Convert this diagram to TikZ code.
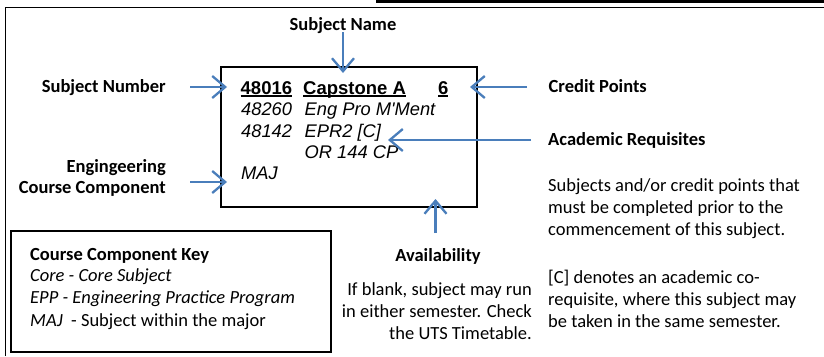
\documentclass[tikz,border=0pt]{standalone}
\usepackage{fontspec}
\setmainfont{Carlito}
\newfontfamily\arialf{Liberation Sans}
\usetikzlibrary{arrows.meta}
\definecolor{arrowblue}{RGB}{74,126,187}
\newcommand\myul[1]{\leavevmode\setbox0\hbox{#1}\rlap{\rule[-3pt]{\wd0}{2pt}}\box0}
\begin{document}
\begin{tikzpicture}[x=1pt,y=-1pt,
  lbl/.style={font=\fontsize{18.5}{22}\selectfont\bfseries, inner sep=0pt},
  bodyt/.style={font=\fontsize{18.5}{22}\selectfont, inner sep=0pt},
  boxb/.style={font=\arialf\fontsize{18.5}{21}\selectfont\bfseries, inner sep=0pt},
  boxi/.style={font=\arialf\fontsize{18.3}{21}\selectfont\itshape, inner sep=0pt},
  frame/.style={draw=black, line width=1.2pt},
  arr/.style={draw=arrowblue, line width=2.3pt, -{Straight Barb[length=13pt,width=22pt,line width=2.3pt]}}]
\useasboundingbox (0,0) rectangle (824,356);
% outer frame and top bar
\draw[line width=1pt] (5,356) -- (5,7) -- (824,7);
\fill[black] (376,0) rectangle (824,3.2);
% subject box
\draw[frame] (221,67) rectangle (477,207);
% key box
\draw[frame] (11,231) rectangle (331,352);
% box content
\node[boxb, anchor=base west] (num) at (240.5,94) {\myul{48016}};
\node[boxb, anchor=base west] (name) at (303,94) {\myul{Capstone A}};
\node[boxb, anchor=base west] (cp) at (438,94) {\myul{6}};
\node[boxi, anchor=base west] (r2a) at (241,115.5) {48260};
\node[boxi, anchor=base west] (r2b) at (304.5,115.5) {Eng Pro M\textquotesingle Ment};
\node[boxi, anchor=base west] (r3a) at (241,137.5) {48142};
\node[boxi, anchor=base west] (r3b) at (304.5,137.5) {EPR2 [C]};
\node[boxi, anchor=base west] (r4b) at (304.5,158.5) {OR 144 CP};
\node[boxi, anchor=base west] (r5a) at (241,179.5) {MAJ};
% labels
\node[lbl, anchor=base] (sname) at (343,30.5) {Subject Name};
\node[lbl, anchor=base east] (snum) at (166,92) {Subject Number};
\node[lbl, anchor=base east] (eng1) at (166,172) {Engingeering};
\node[lbl, anchor=base east] (eng2) at (166,193) {Course Component};
\node[lbl, anchor=base west] (credit) at (548.5,92) {Credit Points};
\node[lbl, anchor=base west] (acad) at (548,145) {Academic Requisites};
\node[lbl, anchor=base] (avail) at (438,261) {Availability};
% availability text
\node[bodyt, anchor=base east] (av1) at (532,295) {If blank, subject may run};
\node[bodyt, anchor=base east] (av2) at (532,317) {in either semester. Check};
\node[bodyt, anchor=base east] (av3) at (532,339) {the UTS Timetable.};
% requisites text
\node[bodyt, anchor=base west] (rq1) at (548,191) {Subjects and/or credit points that};
\node[bodyt, anchor=base west] (rq2) at (548,213) {must be completed prior to the};
\node[bodyt, anchor=base west] (rq3) at (548,235) {commencement of this subject.};
\node[bodyt, anchor=base west] (rq4) at (548,283) {[C] denotes an academic co-};
\node[bodyt, anchor=base west] (rq5) at (548,305) {requisite, where this subject may};
\node[bodyt, anchor=base west] (rq6) at (548,327) {be taken in the same semester.};
% key text
\node[lbl, anchor=base west] (key0) at (30,260) {Course Component Key};
\node[bodyt, anchor=base west] (key1) at (30,281) {\itshape Core - Core Subject};
\node[bodyt, anchor=base west] (key2) at (30,303) {\itshape EPP - Engineering Practice Program};
\node[bodyt, anchor=base west] (key3) at (30,326) {\textit{MAJ}\ \ - Subject within the major};
% arrow coordinates
\coordinate (snS) at (343,32);
\coordinate (snE) at (343,73);
\coordinate (nuS) at (190,87);
\coordinate (nuE) at (227,87);
\coordinate (enS) at (190,182);
\coordinate (enE) at (227,182);
\coordinate (crS) at (527,87);
\coordinate (crE) at (470,87);
\coordinate (acS) at (531,140);
\coordinate (acE) at (388,140);
\coordinate (avS) at (435.5,233);
\coordinate (avE) at (435.5,199);
\draw[arr] (snS) -- (snE);
\draw[arr] (nuS) -- (nuE);
\draw[arr] (enS) -- (enE);
\draw[arr] (crS) -- (crE);
\draw[arr] (acS) -- (acE);
\draw[arr] (avS) -- (avE);
\end{tikzpicture}
\end{document}
